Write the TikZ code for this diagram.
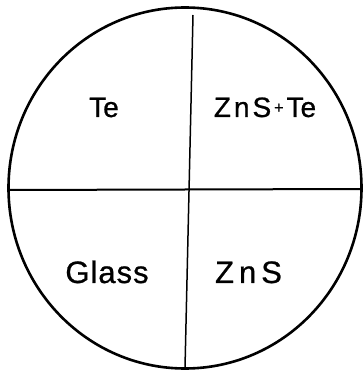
\documentclass[tikz,border=0pt]{standalone}
\usepackage{fontspec}
\setmainfont{Liberation Sans}
\begin{document}
\begin{tikzpicture}[x=1pt,y=1pt,
  toplbl/.style={font=\fontsize{28}{28}\selectfont\addfontfeature{FakeBold=0.8}, inner sep=0pt, anchor=base},
  botlbl/.style={font=\fontsize{31}{31}\selectfont\addfontfeature{FakeBold=0.8}, inner sep=0pt, anchor=base},
  rim/.style={line width=2.6pt},
  hcut/.style={line width=2pt},
  vcut/.style={line width=1.5pt}]
\useasboundingbox (0,0) rectangle (364,373);
\draw[rim] (185,185) ellipse [x radius=176.5, y radius=180.5];
\coordinate (vt) at (193,358);
\coordinate (vb) at (185,5);
\coordinate (hl) at (9,183);
\coordinate (hr) at (361,184);
\draw[vcut] (vt) -- (vb);
\draw[hcut] (hl) -- (hr);
\node[toplbl] (te) at (104,256) {Te};
\node[toplbl] (znste) at (265,256) {Z\kern3pt n\kern3pt S\kern3pt\raisebox{4pt}{\fontsize{16}{16}\selectfont+}\kern3pt Te};
\node[botlbl] (glass) at (107,90) {G\kern1pt l\kern1pt a\kern1pt s\kern1pt s};
\node[botlbl] (zns) at (248.5,90) {Z\kern5pt n\kern5pt S};
\end{tikzpicture}
\end{document}
